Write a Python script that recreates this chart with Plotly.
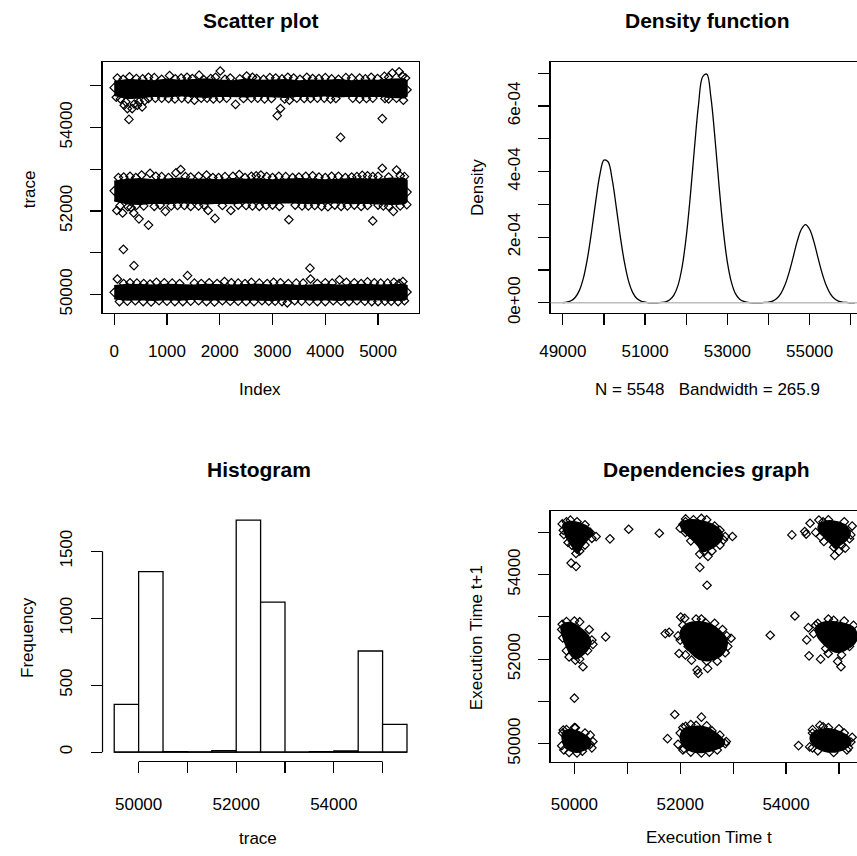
import plotly.graph_objects as go

# ---------------- DATA ----------------
N_OBS = 5548
BANDWIDTH = 265.9

# Scatter plot: dense cores of the three bands (envelope read at index positions)
band_idx = [1, 250, 500, 750, 1000, 1250, 1500, 1750, 2000, 2250, 2500, 2750,
            3000, 3250, 3500, 3750, 4000, 4250, 4500, 4750, 5000, 5250, 5500, 5548]
top_hi = [55100, 55140, 55130, 55110, 55150, 55120, 55140, 55160, 55130, 55110, 55150, 55120,
          55130, 55140, 55110, 55130, 55120, 55140, 55110, 55130, 55120, 55150, 55160, 55110]
top_lo = [54770, 54690, 54710, 54750, 54730, 54760, 54740, 54720, 54750, 54740, 54730, 54750,
          54740, 54720, 54750, 54740, 54760, 54730, 54750, 54740, 54750, 54720, 54710, 54750]
mid_hi = [52710, 52750, 52770, 52740, 52760, 52780, 52750, 52760, 52740, 52770, 52750, 52760,
          52740, 52750, 52770, 52760, 52740, 52750, 52770, 52760, 52750, 52780, 52770, 52730]
mid_lo = [52240, 52170, 52160, 52190, 52180, 52200, 52190, 52170, 52190, 52180, 52200, 52190,
          52180, 52200, 52190, 52180, 52190, 52200, 52180, 52190, 52170, 52160, 52170, 52220]
bot_hi = [50210, 50240, 50230, 50220, 50240, 50230, 50220, 50240, 50230, 50220, 50230, 50240,
          50220, 50230, 50210, 50230, 50240, 50220, 50230, 50240, 50220, 50230, 50240, 50210]
bot_lo = [49900, 49870, 49880, 49860, 49880, 49870, 49890, 49870, 49880, 49860, 49880, 49870,
          49860, 49880, 49890, 49870, 49880, 49860, 49880, 49870, 49880, 49860, 49870, 49900]

# Scatter plot: individually visible observations (band edges and outliers)
pts_idx = [
    # top band, upper edge
    60, 290, 540, 760, 1050, 1270, 1480, 1610, 1830, 2010, 2200, 2510, 2700, 2950, 3180,
    3400, 3650, 3880, 4120, 4390, 4650, 4870, 5120, 5270, 5400, 5520,
    170, 420, 650, 900, 1160, 1380, 1700, 1920, 2100, 2380, 2620, 2830, 3060, 3290, 3520,
    3760, 4000, 4250, 4500, 4760, 4990, 5200, 5460,
    # top band, lower edge and outliers
    40, 190, 220, 250, 280, 340, 440, 470, 530, 650, 900, 1150, 1520, 1760, 2000, 2300,
    2600, 2850, 3090, 3150, 3320, 3600, 3850, 4100, 4290, 4520, 4780, 5080, 5200, 5480,
    120, 380, 580, 780, 1030, 1280, 1400, 1650, 1880, 2130, 2450, 2720, 2980, 3230, 3460,
    3720, 3980, 4200, 4650, 4900, 5130, 5350,
    1, 5548,
    # middle band, upper edge
    80, 300, 520, 680, 900, 1170, 1260, 1450, 1750, 1980, 2370, 2600, 2780, 3000, 3250,
    3500, 3760, 4000, 4250, 4500, 4700, 4900, 5080, 5350, 5500,
    180, 410, 790, 1030, 1350, 1600, 1870, 2100, 2250, 2480, 2690, 2890, 3120, 3380, 3630,
    3880, 4120, 4380, 4600, 4800, 5000, 5200, 5420,
    # middle band, lower edge and outliers
    50, 160, 260, 370, 470, 560, 650, 970, 1200, 1450, 1780, 1910, 2210, 2500, 2750, 3000,
    3310, 3560, 3800, 4050, 4300, 4550, 4900, 5100, 5290, 5545,
    110, 320, 420, 760, 870, 1080, 1330, 1600, 1700, 2050, 2350, 2620, 2880, 3130, 3430,
    3680, 3930, 4180, 4420, 4680, 4800, 5000, 5200, 5420,
    175, 375, 1, 5548,
    # bottom band, upper edge and outliers
    60, 300, 560, 800, 1100, 1390, 1650, 2090, 2350, 2600, 2900, 3150, 3450, 3710, 3720,
    4000, 4270, 4550, 4800, 5050, 5300, 5470,
    180, 430, 680, 950, 1240, 1520, 1800, 1950, 2220, 2480, 2750, 3020, 3300, 3580, 3850,
    4130, 4400, 4680, 4930, 5180, 5400,
    # bottom band, lower edge
    100, 400, 700, 1000, 1300, 1600, 1900, 2200, 2500, 2800, 3050, 3280, 3550, 3850, 4150,
    4450, 4750, 5000, 5250, 5500, 1, 5548,
    250, 550, 850, 1150, 1450, 1750, 2050, 2350, 2650, 2930, 3180, 3420, 3700, 4000, 4300,
    4600, 4880, 5130, 5380,
]
pts_val = [
    55180, 55210, 55160, 55190, 55240, 55180, 55170, 55250, 55170, 55350, 55180, 55230, 55170,
    55190, 55160, 55180, 55200, 55170, 55160, 55190, 55180, 55200, 55220, 55300, 55330, 55180,
    55150, 55170, 55200, 55150, 55160, 55200, 55140, 55200, 55150, 55160, 55200, 55150, 55180,
    55200, 55150, 55170, 55190, 55150, 55180, 55160, 55170, 55200, 55230,
    54720, 54530, 54610, 54450, 54190, 54450, 54530, 54610, 54490, 54690, 54700, 54680, 54650,
    54700, 54690, 54550, 54700, 54680, 54280, 54450, 54650, 54690, 54700, 54680, 53760, 54700,
    54690, 54210, 54680, 54650,
    54680, 54560, 54640, 54700, 54690, 54700, 54680, 54700, 54680, 54700, 54690, 54700, 54690,
    54680, 54700, 54690, 54700, 54690, 54680, 54700, 54690, 54700,
    54950, 54900,
    52800, 52830, 52860, 52900, 52820, 52910, 52990, 52810, 52860, 52800, 52870, 52830, 52860,
    52800, 52820, 52810, 52840, 52800, 52830, 52810, 52850, 52820, 53020, 52980, 52820,
    52810, 52800, 52830, 52800, 52820, 52830, 52800, 52820, 52830, 52800, 52840, 52820, 52830,
    52800, 52830, 52810, 52830, 52800, 52820, 52840, 52830, 52810, 52840,
    52010, 51950, 52100, 51950, 51810, 52120, 51660, 51990, 52130, 52110, 52010, 51820, 52010,
    52130, 52110, 52140, 51790, 52120, 52130, 52100, 52110, 52140, 51760, 52120, 51990, 52150,
    52120, 52080, 52130, 52110, 52140, 52120, 52130, 52120, 52140, 52130, 52140, 52120, 52130,
    52110, 52140, 52120, 52110, 52140, 52120, 52110, 52130, 52140, 52110, 52120,
    51080, 50690, 52480, 52450,
    50370, 50280, 50260, 50290, 50270, 50450, 50260, 50310, 50270, 50290, 50260, 50280, 50270,
    50630, 50370, 50280, 50350, 50280, 50300, 50270, 50290, 50310,
    50260, 50270, 50250, 50280, 50260, 50270, 50280, 50260, 50280, 50260, 50270, 50290, 50260,
    50270, 50260, 50270, 50290, 50260, 50280, 50270, 50260,
    49830, 49850, 49820, 49840, 49830, 49850, 49820, 49840, 49830, 49850, 49840, 49800, 49840,
    49830, 49850, 49830, 49840, 49830, 49840, 49850, 50050, 50060,
    49840, 49830, 49850, 49830, 49840, 49830, 49850, 49840, 49830, 49840, 49830, 49850, 49840,
    49830, 49840, 49850, 49830, 49840, 49830,
]

# Density function (units of 1e-4)
dens_x = [49000, 49100, 49200, 49300, 49400, 49500, 49600, 49700, 49800, 49900, 50000,
          50100, 50200, 50300, 50400, 50500, 50600, 50700, 50800, 50900, 51000, 51100,
          51200, 51300, 51400, 51500, 51600, 51700, 51800, 51900, 52000, 52100, 52200,
          52300, 52400, 52500, 52600, 52700, 52800, 52900, 53000, 53100, 53200, 53300,
          53400, 53500, 53600, 53700, 53800, 53900, 54000, 54100, 54200, 54300, 54400,
          54500, 54600, 54700, 54800, 54900, 55000, 55100, 55200, 55300, 55400, 55500,
          55600, 55700, 55800, 55900, 56000, 56100]
dens_y = [0.0, 0.02, 0.06, 0.16, 0.37, 0.75, 1.36, 2.18, 3.09, 3.90, 4.35,
          4.30, 3.76, 2.91, 2.00, 1.22, 0.65, 0.31, 0.13, 0.05, 0.02, 0.0,
          0.0, 0.0, 0.01, 0.03, 0.09, 0.23, 0.53, 1.09, 2.00, 3.26, 4.71,
          6.05, 6.89, 6.97, 6.27, 5.00, 3.54, 2.23, 1.24, 0.62, 0.27, 0.11,
          0.04, 0.01, 0.0, 0.0, 0.0, 0.01, 0.02, 0.05, 0.13, 0.28, 0.54,
          0.92, 1.39, 1.88, 2.24, 2.38, 2.24, 1.88, 1.39, 0.92, 0.54, 0.28,
          0.13, 0.05, 0.02, 0.01, 0.0, 0.0]

# Histogram
hist_edges = [49500, 50000, 50500, 51000, 51500, 52000, 52500, 53000, 53500, 54000, 54500, 55000, 55500]
hist_counts = [357, 1348, 3, 2, 12, 1731, 1120, 0, 3, 9, 755, 208]

# Dependencies graph: dense cores of the nine clusters (outline vertices) ...
dep_core_x = [
    [49789, 49925, 50112, 50286, 50348, 50249, 50143, 50062, 49988, 49894, 49813],
    [52009, 52165, 52413, 52631, 52774, 52799, 52693, 52538, 52426, 52320, 52165, 52040],
    [54621, 54777, 54995, 55150, 55212, 55150, 55026, 54932, 54839, 54715, 54621],
    [49751, 49863, 49988, 50143, 50267, 50311, 50236, 50112, 50019, 49925, 49832, 49770],
    [52009, 52133, 52351, 52569, 52755, 52880, 52861, 52724, 52538, 52351, 52196, 52071, 52009],
    [54559, 54684, 54901, 55119, 55275, 55337, 55306, 55150, 54995, 54870, 54715, 54590],
    [49789, 49894, 50050, 50205, 50311, 50286, 50174, 50050, 49925, 49813, 49770],
    [52009, 52102, 52289, 52507, 52693, 52836, 52818, 52662, 52444, 52227, 52071, 52009],
    [54466, 54590, 54808, 55026, 55181, 55225, 55119, 54932, 54715, 54559, 54466],
]
dep_core_y = [
    [55192, 55255, 55216, 55098, 54980, 54823, 54667, 54533, 54627, 54784, 54980],
    [55216, 55294, 55271, 55176, 55020, 54863, 54706, 54588, 54549, 54706, 54902, 55059],
    [55176, 55271, 55239, 55137, 54980, 54823, 54706, 54627, 54745, 54902, 55020],
    [52784, 52863, 52839, 52706, 52549, 52392, 52196, 52055, 52000, 52118, 52353, 52588],
    [52667, 52839, 52886, 52824, 52667, 52471, 52235, 52039, 51961, 52000, 52157, 52353, 52510],
    [52745, 52863, 52886, 52839, 52745, 52588, 52392, 52235, 52157, 52196, 52353, 52549],
    [50275, 50329, 50298, 50196, 50039, 49922, 49843, 49796, 49827, 49937, 50118],
    [50235, 50369, 50408, 50376, 50235, 50039, 49961, 49859, 49796, 49812, 49922, 50078],
    [50196, 50314, 50353, 50275, 50157, 50016, 49882, 49804, 49827, 49922, 50063],
]
# ... and individually visible pairs (trace[t], trace[t+1])
dep_x = [
    49770, 49925, 50050, 50410, 50330, 50200, 50100, 50030, 49938, 50031, 50672, 51026, 49800, 49880,
    49850, 50200, 50300, 49790, 50050, 49950,
    52102, 52053, 52986, 52818, 52370, 52525, 52370, 52507, 51605, 52000, 52250, 52650, 52750, 52600, 52200, 52400,
    52100, 52500, 52750, 52850, 52450, 52100,
    54111, 54354, 54454, 54621, 54715, 54920, 55119, 55225, 54800, 54560, 55000, 55250, 54380,
    54700, 55100, 55200, 54650, 54900, 55050,
    49770, 50591, 50162, 50000, 50019, 49850, 50330, 50250, 49780, 49900, 50100,
    49760, 50000, 50280, 50350, 50100, 49850,
    51717, 52009, 52084, 51978, 52214, 52320, 52339, 52519, 52961, 52476, 51791, 51960, 52900, 52700, 52400, 52800, 52100,
    52050, 52300, 52650, 52880, 52850, 52500, 52150, 52000,
    53701, 54167,
    54422, 54391, 54435, 54653, 54796, 54976, 55038, 55275, 54600, 54900, 55200, 54520,
    54560, 54800, 55100, 55300, 55050, 54750,
    50019, 50299, 49780, 49850, 50200, 50350, 49900, 50150, 49760,
    49790, 50000, 50300, 50330, 50050, 49800,
    51897, 52401, 51760, 51959, 52071, 52102, 52000, 52300, 52850, 52700, 52400, 52200, 52600,
    52050, 52200, 52500, 52750, 52870, 52550, 52050,
    54640, 54236, 54447, 55225, 54500, 54800, 55100, 55180, 54900, 54600,
    54500, 54700, 55000, 55250, 55150, 54500,
]
dep_y = [
    55200, 55290, 55250, 54900, 54860, 54700, 54560, 54500, 54274, 54196, 54847, 55074, 54950, 54760,
    55250, 55180, 55000, 55050, 54600, 54700,
    55318, 55192, 54902, 54823, 54486, 54431, 54172, 53749, 54980, 55100, 55300, 55150, 54700, 54560, 54800, 55330,
    55250, 55300, 55050, 54900, 54550, 55000,
    54941, 55020, 55216, 55294, 54784, 54455, 54627, 54941, 55300, 55000, 54550, 55150, 54960,
    55250, 55250, 54850, 54900, 54650, 54700,
    52824, 52525, 51820, 51075, 51976, 52890, 52450, 52200, 52500, 52050, 52880,
    52700, 52900, 52700, 52350, 52000, 52200,
    52604, 52996, 52965, 52133, 51976, 51741, 51663, 51780, 52494, 52863, 52635, 52550, 52300, 51950, 52950, 52700, 52100,
    52800, 52950, 52850, 52550, 52150, 51950, 52300, 52450,
    52565, 53020,
    52745, 52455, 52078, 52000, 52133, 51945, 51820, 52800, 52850, 52920, 52300, 52600,
    52800, 52950, 52900, 52500, 52100, 52250,
    50376, 49984, 50250, 50330, 50250, 50050, 49790, 49820, 49950,
    50320, 50380, 50200, 49900, 49780, 49850,
    50690, 50627, 50118, 49984, 49882, 50408, 50250, 50430, 50000, 49850, 49780, 49800, 50300,
    50380, 50450, 50420, 50200, 50050, 49800, 49850,
    50431, 49953, 49922, 50039, 50250, 50380, 50250, 49900, 49790, 49830,
    50330, 50400, 50350, 50150, 49850, 49900,
]

scatter_yticks = [50000, 51000, 52000, 53000, 54000, 55000]
scatter_yticktext = ["50000", "", "52000", "", "54000", ""]
index_ticks = [0, 1000, 2000, 3000, 4000, 5000]
dens_xticks = [49000, 50000, 51000, 52000, 53000, 54000, 55000, 56000]
dens_xticktext = ["49000", "", "51000", "", "53000", "", "55000", ""]
dens_yticks = [0, 1e-4, 2e-4, 3e-4, 4e-4, 5e-4, 6e-4, 7e-4]
dens_yticktext = ["0e+00", "", "2e-04", "", "4e-04", "", "6e-04", ""]
hist_xticks = [50000, 51000, 52000, 53000, 54000, 55000]
hist_xticktext = ["50000", "", "52000", "", "54000", ""]
hist_yticks = [0, 500, 1000, 1500]

# ---------------- FIGURE ----------------
W, H = 857, 856
FONT = "Liberation Sans, Arial, sans-serif"
BLACK = "black"
MARKER = dict(symbol="diamond-open", size=6.5, color=BLACK, line=dict(width=1.2, color=BLACK))


def fx(p):
    return p / W


def fy(p):
    return 1 - p / H


fig = go.Figure()

# Scatter plot bands
for hi, lo in [(top_hi, top_lo), (mid_hi, mid_lo), (bot_hi, bot_lo)]:
    fig.add_trace(go.Scatter(
        x=band_idx + band_idx[::-1], y=hi + lo[::-1], fill="toself", fillcolor=BLACK,
        mode="lines", line=dict(color=BLACK, width=1.5), hoverinfo="skip",
        xaxis="x", yaxis="y", showlegend=False))
fig.add_trace(go.Scatter(x=pts_idx, y=pts_val, mode="markers", marker=MARKER,
                         xaxis="x", yaxis="y", showlegend=False))

# Density
fig.add_trace(go.Scatter(
    x=dens_x, y=[v * 1e-4 for v in dens_y], mode="lines", line=dict(color=BLACK, width=1.3, shape="spline"),
    xaxis="x2", yaxis="y2", showlegend=False))

# Histogram
centers = [(a + b) / 2 for a, b in zip(hist_edges[:-1], hist_edges[1:])]
widths = [b - a for a, b in zip(hist_edges[:-1], hist_edges[1:])]
fig.add_trace(go.Scatter(
    x=[hist_edges[0], hist_edges[-1]], y=[0, 0], mode="lines", line=dict(color=BLACK, width=1.3),
    xaxis="x3", yaxis="y3", showlegend=False, hoverinfo="skip"))
fig.add_trace(go.Bar(
    x=centers, y=hist_counts, width=widths, marker=dict(color="white", line=dict(color=BLACK, width=1.3)),
    xaxis="x3", yaxis="y3", showlegend=False))

# Dependencies graph
for cx, cy in zip(dep_core_x, dep_core_y):
    fig.add_trace(go.Scatter(
        x=cx + cx[:1], y=cy + cy[:1], fill="toself", fillcolor=BLACK, mode="lines",
        line=dict(color=BLACK, width=1.5, shape="spline"), hoverinfo="skip",
        xaxis="x4", yaxis="y4", showlegend=False))
fig.add_trace(go.Scatter(x=dep_x, y=dep_y, mode="markers", marker=MARKER,
                         xaxis="x4", yaxis="y4", showlegend=False))

tickfont = dict(family=FONT, size=17, color=BLACK)
base = dict(showgrid=False, zeroline=False, ticks="outside", ticklen=11, tickwidth=1.2,
            tickcolor=BLACK, linecolor=BLACK, linewidth=1.2, tickfont=tickfont, fixedrange=True)
XSO, YSO = 12, 12

fig.update_layout(
    width=W, height=H, margin=dict(l=0, r=0, t=0, b=0),
    paper_bgcolor="white", plot_bgcolor="white", showlegend=False,
    bargap=0,
    xaxis=dict(base, domain=[fx(92.7), fx(413)], range=[-221, 5770], tickvals=index_ticks,
               showline=True, mirror=True, anchor="y", ticklabelstandoff=XSO),
    yaxis=dict(base, domain=[fy(316.7), fy(62.7)], range=[49565, 55567], tickvals=scatter_yticks,
               ticktext=scatter_yticktext, tickangle=-90, showline=True, mirror=True, anchor="x",
               ticklabelstandoff=YSO),
    xaxis2=dict(base, domain=[fx(546.7), 1], range=[48705, 56152], tickvals=dens_xticks,
                ticktext=dens_xticktext, showline=True, mirror=True, anchor="y2", ticklabelstandoff=XSO),
    yaxis2=dict(base, domain=[fy(316.7), fy(62.7)], range=[-0.301e-4, 7.343e-4], tickvals=dens_yticks,
                ticktext=dens_yticktext, tickangle=-90, showline=True, mirror=False, anchor="x2",
                ticklabelstandoff=YSO),
    xaxis3=dict(base, domain=[fx(92.7), fx(413)], range=[49260, 55740], tickvals=hist_xticks,
                ticktext=hist_xticktext, showline=False, anchor="y3", ticklabelstandoff=XSO + 4),
    yaxis3=dict(base, domain=[fy(771.4), fy(516.3)], range=[-69.6, 1809.6], tickvals=hist_yticks,
                tickangle=-90, showline=False, anchor="x3", ticklabelstandoff=YSO),
    xaxis4=dict(base, domain=[fx(546.7), 1], range=[49552, 55341], tickvals=hist_xticks,
                ticktext=hist_xticktext, showline=True, mirror=True, anchor="y4", ticklabelstandoff=XSO + 4),
    yaxis4=dict(base, domain=[fy(771.7), fy(517.7)], range=[49570, 55505], tickvals=scatter_yticks,
                ticktext=scatter_yticktext, tickangle=-90, showline=True, mirror=False, anchor="x4",
                ticklabelstandoff=YSO),
)

# Histogram axis lines span first..last tick, as in base R
fig.add_shape(type="line", xref="x3", yref="y3 domain", x0=hist_xticks[0], x1=hist_xticks[-1], y0=0, y1=0,
              line=dict(color=BLACK, width=1.2))
fig.add_shape(type="line", xref="x3 domain", yref="y3", x0=0, x1=0, y0=hist_yticks[0], y1=hist_yticks[-1],
              line=dict(color=BLACK, width=1.2))
# Grey zero line of the density plot, drawn over the curve
fig.add_shape(type="line", xref="x2 domain", yref="y2", x0=0, x1=1, y0=0, y1=0,
              line=dict(color="#bebebe", width=1.3), layer="above")


def label(text, x, y, size=17, bold=False, angle=0):
    fig.add_annotation(text=f"<b>{text}</b>" if bold else text, x=fx(x), y=fy(y), xref="paper", yref="paper",
                       showarrow=False, textangle=angle, xanchor="center", yanchor="middle",
                       font=dict(family=FONT, size=size, color=BLACK))


label("Scatter plot", 252.8, 21, 21, True)
label("Density function", 705.5, 21, 21, True)
label("Histogram", 251.7, 476, 21, True)
label("Dependencies graph", 705, 476, 21, True)
label("Index", 252, 395)
label("trace", 18.3, 191.7, angle=-90)
label(f"N = {N_OBS}\u00a0\u00a0\u00a0Bandwidth = {BANDWIDTH}", 705.8, 395)
label("Density", 472.5, 190, angle=-90)
label("trace", 250.7, 849)
label("Frequency", 16.5, 646, angle=-90)
label("Execution Time t", 706.7, 848)
label("Execution Time t+1", 471.7, 645.8, angle=-90)

fig.write_html(
    "out.html",
    config={"displayModeBar": False, "staticPlot": True},
    post_script="document.body.style.margin='0';document.body.style.overflow='hidden';",
)
